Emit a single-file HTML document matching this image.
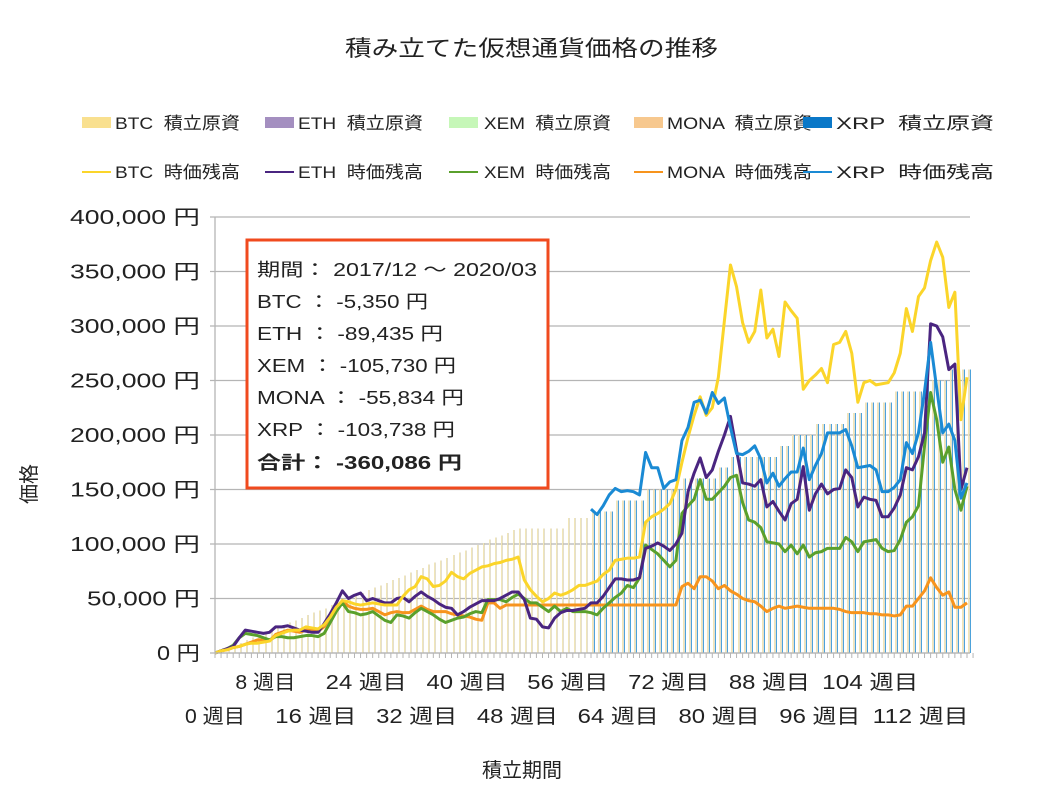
<!DOCTYPE html>
<html><head><meta charset="utf-8">
<style>
html,body{margin:0;padding:0;background:#fff;}
body{width:1058px;height:794px;overflow:hidden;font-family:"Liberation Sans","Noto Sans CJK JP",sans-serif;}
svg text{font-family:"Liberation Sans","Noto Sans CJK JP",sans-serif;fill:#222;white-space:pre;}
</style></head>
<body>
<svg id="chart" width="1058" height="794" viewBox="0 0 1058 794" xmlns="http://www.w3.org/2000/svg">
  <rect width="1058" height="794" fill="#fff"/>
  <text x="345" y="56" font-size="22" textLength="373" lengthAdjust="spacingAndGlyphs">積み立てた仮想通貨価格の推移</text>
  <g id="legend"></g>
  <g id="grid"></g>
  <g id="bars" shape-rendering="crispEdges"></g>
  <g id="lines"></g>
  <g id="axes"></g>
  <text x="0" y="0" font-size="20" text-anchor="middle" transform="translate(36,484) rotate(-90)">価格</text>
  <text x="522" y="777" font-size="20" text-anchor="middle">積立期間</text>
  <g>
    <rect x="247" y="240" width="301" height="248" fill="#fff" stroke="#f04a1e" stroke-width="3"/>
    <text x="257" y="276" font-size="18" textLength="280" lengthAdjust="spacingAndGlyphs">期間： 2017/12 ～ 2020/03</text>
    <text x="257" y="308" font-size="18" textLength="171" lengthAdjust="spacingAndGlyphs">BTC ： -5,350 円</text>
    <text x="257" y="340" font-size="18" textLength="186" lengthAdjust="spacingAndGlyphs">ETH ： -89,435 円</text>
    <text x="257" y="372" font-size="18" textLength="199" lengthAdjust="spacingAndGlyphs">XEM ： -105,730 円</text>
    <text x="257" y="404" font-size="18" textLength="207" lengthAdjust="spacingAndGlyphs">MONA ： -55,834 円</text>
    <text x="257" y="436" font-size="18" textLength="198" lengthAdjust="spacingAndGlyphs">XRP ： -103,738 円</text>
    <text x="257" y="469" font-size="18" font-weight="bold" textLength="205" lengthAdjust="spacingAndGlyphs">合計： -360,086 円</text>
  </g>
</svg>
<script>
// values in thousand yen, weeks 0..124
const weeks = 125;
const yTicks = [0,50,100,150,200,250,300,350,400];
const xTickWeeksTop = [8,24,40,56,72,88,104];
const xTickWeeksBottom = [0,16,32,48,64,80,96,112];
const invested = [0,2,5,7,9,12,14,16,18,21,23,25,28,30,32,35,37,39,41,44,46,48,51,53,55,58,60,62,64,67,69,71,74,76,78,81,83,85,87,90,92,94,97,99,101,104,106,108,110,113,
114,114,114,114,114,114,114,114,124,124,124,124,130,130,130,130,140,140,140,140,140,150,150,150,150,150,150,160,160,160,160,160,160,170,170,
180,180,180,180,180,180,180,180,190,190,200,200,200,200,210,210,210,210,210,220,220,220,230,230,230,230,230,240,240,240,240,240,250,250,250,250,260,260,260,260];
const btc = [0,2,3,5,6,8,9,9,10,11,16,18,20,21,21,24,23,22,26,33,42,48,47,45,44,45,46,45,44,44,
44,52,58,61,70,68,61,62,66,74,70,68,73,76,79,80,82,83,85,86,88,67,58,52,47,50,55,53,55,58,
62,62,64,66,72,76,85,86,87,87,88,120,125,128,132,137,150,175,198,218,235,218,225,253,305,356,336,303,285,295,
333,289,297,272,322,314,307,242,250,255,261,248,283,285,295,275,230,248,250,246,247,248,257,275,316,295,327,335,360,377,
363,317,331,214,253];
const eth = [0,2,4,6,14,21,20,19,18,19,24,24,25,23,21,20,19,19,27,36,46,57,50,53,55,48,50,48,46,46,
50,51,47,52,56,52,49,45,42,41,35,38,42,45,48,48,48,50,53,56,56,49,32,31,24,23,32,37,39,39,
40,41,46,46,52,60,68,68,67,67,69,96,98,101,98,94,100,110,148,165,179,161,168,185,200,217,186,156,155,153,
159,134,139,130,122,137,141,171,131,146,155,146,150,151,168,161,134,143,141,140,125,125,133,145,170,168,180,202,302,300,
290,260,265,150,170];
const xem = [0,2,4,7,14,18,17,16,14,12,15,15,14,14,15,16,16,15,18,28,38,46,38,37,35,36,38,34,30,28,
35,34,32,37,41,38,35,31,28,30,32,33,36,38,37,49,49,49,47,51,54,50,46,46,42,38,43,38,41,38,
38,38,37,35,41,46,51,55,62,60,69,99,95,91,85,79,85,128,135,141,159,141,141,147,153,161,163,138,122,120,
115,102,101,100,93,99,91,99,88,92,93,96,96,96,106,102,93,102,103,104,96,93,94,104,120,125,135,190,239,214,
175,189,150,131,153];
const mona = [0,2,3,5,6,8,10,12,12,11,17,19,21,20,19,21,21,20,24,33,41,48,43,41,40,40,41,38,35,37,
38,37,37,40,43,40,38,38,38,36,35,34,33,31,30,46,46,41,44,44,44,44,44,44,44,44,44,44,44,44,
44,44,44,44,44,44,44,44,44,44,44,44,44,44,44,44,44,61,64,59,70,70,66,59,62,57,54,50,48,47,
43,38,41,43,41,42,43,42,41,41,41,41,41,40,38,37,37,37,36,36,35,35,34,35,43,43,50,57,69,60,
53,56,42,42,46];
const xrpStartWeek = 62;
const xrp = [132,127,135,145,151,148,149,148,145,184,170,170,151,157,159,195,207,230,
232,220,239,229,234,207,183,182,185,190,178,156,165,153,160,166,166,188,159,172,
183,202,202,202,205,190,170,171,172,168,148,148,152,159,193,183,202,240,285,243,
202,210,195,142,156];

const NS = 'http://www.w3.org/2000/svg';
const X0 = 215, X1 = 970, Y0 = 653, Y1 = 217;
const step = 752 / (weeks - 1);
function xScale(i){ return X0 + i * step; }
function labelX(w){ return X0 + w * 6.3; }
function yScale(v){ return Y0 - (v / 400) * (Y0 - Y1); }
function mk(tag, attrs, parent){ const e = document.createElementNS(NS, tag); for (const k in attrs) e.setAttribute(k, attrs[k]); parent.appendChild(e); return e; }

const grid = document.getElementById('grid');
const axes = document.getElementById('axes');
yTicks.forEach(t => {
  const y = yScale(t);
  const gl = mk('line', {x1: X0 - 5, x2: X1, y1: y, y2: y, stroke: '#b5b5b5', 'stroke-width': 1.3}, grid);
  
  
  const str = (t * 1000).toLocaleString('en-US') + ' 円';
  const len = t === 0 ? 43 : (t < 100 ? 113 : 130);
  const lbl = mk('text', {x: 200 - len, y: y + 7, 'font-size': 20, textLength: len, lengthAdjust: 'spacingAndGlyphs'}, axes);
  lbl.textContent = str;
  
  
});
const ax = mk('line', {x1: X0, x2: X0, y1: Y1, y2: Y0, stroke: '#b5b5b5', 'stroke-width': 1.3}, axes);


const axx = mk('line', {x1: X0, x2: X1, y1: Y0, y2: Y0, stroke: '#b5b5b5', 'stroke-width': 1.3}, axes);


for (let i = 0; i <= weeks; i++) {
  const tk = mk('line', {x1: xScale(i), x2: xScale(i), y1: Y0, y2: Y0 + 5, stroke: '#b5b5b5', 'stroke-width': 1}, axes);
  
  
}
function xLabel(w, y) {
  const digits = String(w).length;
  const len = digits === 1 ? 60 : (digits === 2 ? 81 : 96);
  const t = mk('text', {x: labelX(w) - len / 2, y: y, 'font-size': 20, textLength: len, lengthAdjust: 'spacingAndGlyphs'}, axes);
  t.textContent = w + ' 週目';
  
  
}
xTickWeeksTop.forEach(w => xLabel(w, 689));
xTickWeeksBottom.forEach(w => xLabel(w, 723));

const barColors = ['#f1e6b8', '#a590bf', '#b9e6a6', '#f3c28a', '#3a98d6'];
const barOpacity = [1, 0.22, 0.22, 0.22, 0.9];
const barOffset = [1, 2, 2, 2, 3];
const barNames = ['bar-btc-invested', 'bar-eth-invested', 'bar-xem-invested', 'bar-mona-invested', 'bar-xrp-invested'];
const bars = document.getElementById('bars');
for (let i = 0; i < weeks; i++) {
  const gx = Math.round(xScale(i));
  for (let s = 0; s < 5; s++) {
    if (s === 4 && i < xrpStartWeek) continue;
    const v = invested[i];
    if (!v) continue;
    const r = mk('rect', {x: gx + barOffset[s], y: yScale(v), width: 1, height: Y0 - yScale(v), fill: barColors[s], 'fill-opacity': barOpacity[s]}, bars);
    
    
  }
}

const lines = document.getElementById('lines');
function drawLine(vals, start, color, name) {
  let d = '';
  vals.forEach((v, k) => { d += (k ? 'L' : 'M') + xScale(start + k).toFixed(2) + ',' + yScale(v).toFixed(2); });
  const p = mk('path', {d: d, fill: 'none', stroke: color, 'stroke-width': 3, 'stroke-linejoin': 'round'}, lines);
  
  
}
drawLine(mona, 0, '#f7941d', 'line-mona-value');
drawLine(xem, 0, '#5aa02c', 'line-xem-value');
drawLine(eth, 0, '#4a2580', 'line-eth-value');
drawLine(btc, 0, '#fbd52a', 'line-btc-value');
drawLine(xrp, xrpStartWeek, '#1a8ad4', 'line-xrp-value');

const legend = document.getElementById('legend');
const legCoins = ['BTC', 'ETH', 'XEM', 'MONA', 'XRP'];
const legPatchX = [82, 265, 449, 634, 803];
const legTextX = [115, 298, 484, 667, 836];
const legTextLen = [125, 125, 127, 145, 158];
const legPatchColors = ['#f9e08f', '#a48fc0', '#c6f7b8', '#f7c88e', '#0a78c8'];
const lineColors = ['#fbd52a', '#4a2580', '#5aa02c', '#f7941d', '#1a8ad4'];
legCoins.forEach((c, k) => {
  const r = mk('rect', {x: legPatchX[k], y: 117, width: 29, height: 11, fill: legPatchColors[k]}, legend);
  
  
  const t = mk('text', {x: legTextX[k], y: 129, 'font-size': 17, textLength: legTextLen[k], lengthAdjust: 'spacingAndGlyphs'}, legend);
  t.textContent = c + '  積立原資';
  
  
  const l = mk('line', {x1: legPatchX[k], x2: legPatchX[k] + 29, y1: 172, y2: 172, stroke: lineColors[k], 'stroke-width': 2}, legend);
  
  
  const t2 = mk('text', {x: legTextX[k], y: 178, 'font-size': 17, textLength: legTextLen[k], lengthAdjust: 'spacingAndGlyphs'}, legend);
  t2.textContent = c + '  時価残高';
  
  
});
</script>
</body></html>
